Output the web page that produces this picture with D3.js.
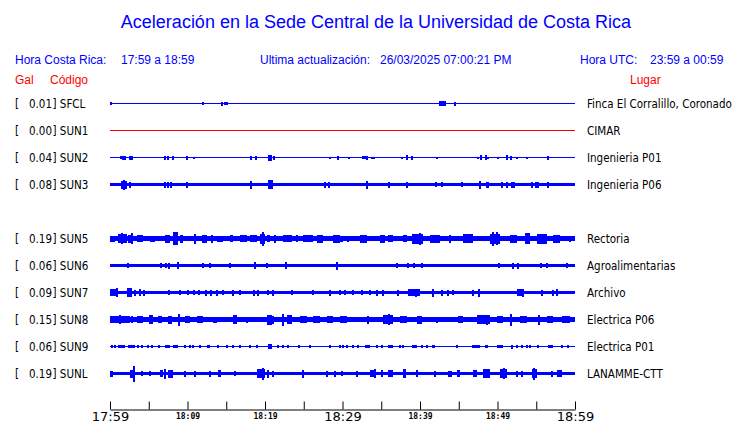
<!DOCTYPE html>
<html>
<head>
<meta charset="utf-8">
<script src="https://cdn.jsdelivr.net/npm/d3@7"></script>
<style>
  html, body { margin: 0; padding: 0; background: #fff; }
  svg { display: block; }
  text { white-space: pre; }
</style>
</head>
<body>
<svg id="chart" width="740" height="423"></svg>
<script>
// ---------------- DATA ----------------
const title = "Aceleración en la Sede Central de la Universidad de Costa Rica";
const headerLocal = ["Hora Costa Rica:", "17:59 a 18:59"];
const headerUpdate = ["Ultima actualización:", "26/03/2025 07:00:21 PM"];
const headerUTC = ["Hora UTC:", "23:59 a 00:59"];
const colHeaders = ["Gal", "Código", "Lugar"];

// row slot (SUN4 slot 4 is empty)
const slots   = [0, 1, 2, 3, 5, 6, 7, 8, 9, 10];
const codes   = ["SFCL", "SUN1", "SUN2", "SUN3", "SUN5", "SUN6", "SUN7", "SUN8", "SUN9", "SUNL"];
const peakGal = ["0.01", "0.00", "0.04", "0.08", "0.19", "0.06", "0.09", "0.15", "0.06", "0.19"];
const places  = ["Finca El Corralillo, Coronado", "CIMAR", "Ingenieria P01", "Ingenieria P06",
                 "Rectoria", "Agroalimentarias", "Archivo", "Electrica P06", "Electrica P01", "LANAMME-CTT"];
const traceColors = ["blue", "red", "blue", "blue", "blue", "blue", "blue", "blue", "blue", "blue"];
// background noise half-amplitude of each trace (relative units)
const baseAmp = [0.5, 0.7, 0.5, 1.5, 2.5, 1.4, 1.65, 2.3, 0.5, 1.85];

// events: [minute, amp] or [startMinute, endMinute, amp]; minutes after 17:59
const evSFCL = [[0.1,1.5],[12.0,1.5],[14.5,2],[14.8,1.5],[15.1,1.5],[42.5,43.4,2.5],[44.5,2]];
const evSUN1 = [];
const evSUN2 = [[1.4,1.5],[1.55,2.06,2],[2.45,2.97,2],[7.1,2],[7.5,2],[8.1,2],[9.9,2],[10.8,1],
  [18.2,2],[18.8,2],[20.4,20.9,3],[21.2,2],[28.4,1],[29.4,2],[30.8,1],[32.6,1.5],[32.9,1.5],[33.2,2],
  [33.8,1],[34.1,1],[37.7,1],[38.3,2.5],[39.0,2],[42.2,1],[47.5,1],[47.9,2.5],[48.5,2.5],[48.8,1],
  [50.1,1],[51.2,2.5],[51.7,2],[52.5,1],[53.8,1],[56.5,2]];
const evSUN3 = [[1.4,2.2,4],[1.8,5],[2.6,3],[7.1,3],[7.5,3],[7.9,3],[9.9,3],[18.2,4],[20.4,21.0,4.5],
  [27.7,3],[28.3,3],[33.2,4],[36.0,3],[38.3,3],[42.1,2.5],[42.8,2.5],[45.4,2.5],[47.7,4],[48.6,3],
  [48.8,3],[50.6,3],[51.2,3],[51.9,3],[52.1,3],[54.5,3],[55.0,3],[55.2,3],[56.5,3]];
const evSUN5 = [[0,0.65,3],[1.0,2.2,4.5],[1.55,5.5],[2.3,3.0,4],[2.8,5.5],[3.5,4.3,3.5],[5.2,5.8,3],
  [7.1,7.7,4],[8.1,8.8,6.5],[9.0,9.4,4],[11.0,5],[11.9,12.5,4],[13.2,4],[13.8,14.6,3],[15.5,15.9,3.5],
  [16.8,17.7,3.5],[18.1,19.0,3.5],[19.4,20.0,5],[19.7,7],[20.3,20.6,3.5],[21.3,4],[22.3,23.5,3.5],
  [24.1,3.5],[24.9,26.2,3.5],[26.7,27.5,4],[28.8,29.7,4],[29.7,30.1,3],[30.7,3],[32.3,33.2,4],
  [34.8,35.5,4],[35.9,36.5,3.5],[37.8,38.3,3.5],[39.0,40.4,5],[40.0,6],[41.3,42.6,4],[43.9,4],
  [45.5,46.8,4.5],[49.0,50.3,5],[49.4,7],[49.9,6.5],[51.6,52.5,4],[53.5,54.2,5.5],[55.1,56.4,5],
  [57.2,58.1,4],[59.4,3]];
const evSUN6 = [[2.3,2.5],[6.6,2.5],[7.2,2.5],[7.6,3],[8.6,8.9,3.5],[12.0,2.5],[12.9,2.5],[15.5,2.5],
  [18.7,3.5],[20.3,2.5],[22.7,3.5],[29.3,4],[37.0,2.5],[38.5,2.5],[39.2,2.5],[40.3,2.5],[50.2,2.5],
  [52.0,3],[52.6,3],[55.6,2.5],[56.4,2.5],[59.0,2.5]];
const evSUN7 = [[0,1.0,3.5],[0.9,4.5],[2.2,2.8,4.5],[3.2,3],[3.9,3.5],[4.3,4.5,3],[7.6,2.5],[9.0,2.5],
  [10.1,2.5],[10.8,2.5],[11.5,2.5],[12.4,3],[13.0,3],[13.8,3],[14.6,2.5],[15.9,3],[16.8,2.5],[18.6,3],
  [19.1,3],[20.4,2.5],[21.0,3],[23.5,2.5],[26.2,2.5],[28.4,3],[29.7,2.5],[30.3,2.5],[31.4,2.5],
  [32.5,2.5],[33.5,2.5],[34.5,3],[35.2,3],[37.2,3],[38.5,40.0,3.5],[39.5,4],[41.7,4],[42.8,3],
  [43.6,3],[44.3,2.5],[46.8,3],[47.6,4],[52.5,53.3,3.5],[53.3,4],[55.7,3],[57.2,3],[57.7,3.5]];
const evSUN8 = [[0,2.6,3.5],[1.3,4.5],[2.8,3.5],[3.5,4.3,3.5],[5.0,5.5,4.5],[6.2,6.7,3.5],[7.5,8.0,4],
  [8.9,6],[9.7,10.3,3.5],[11.2,12.0,3.5],[13.3,13.8,3],[15.9,16.4,4.5],[17.7,3],[20.3,20.9,5],[21.0,4],
  [22.3,6],[22.8,23.5,4.5],[24.5,25.4,3.5],[26.2,27.1,3.5],[28.0,28.8,3.5],[29.7,30.6,3.5],[33.3,4],
  [35.2,36.5,4.5],[36.0,5.5],[37.4,38.3,3.5],[39.6,40.3,4],[42.2,3],[44.9,45.5,3.5],[47.4,49.0,4.5],
  [48.6,5],[49.9,50.7,3.5],[51.7,6],[52.9,53.8,3.5],[55.4,5],[56.4,57.2,3.5],[58.3,59.4,3.5]];
const evSUN9 = [[0.3,1.5],[0.6,1.5],[1.0,1.9,1.5],[2.3,3.2,1.5],[3.6,1.5],[4.1,1.5],[4.9,1.5],[5.4,1.5],
  [6.3,1.5],[7.1,7.7,1.5],[8.1,8.8,1.5],[9.7,1.5],[10.3,1.5],[10.7,1.5],[11.6,1.5],[12.5,12.9,1.5],
  [13.9,1.5],[15.1,1.5],[15.9,1.5],[16.8,1.5],[18.1,1.5],[19.0,1.5],[20.4,20.9,2.5],[21.7,1.5],
  [22.3,1.5],[23.0,1.5],[24.4,1.5],[25.8,1.5],[28.4,1.5],[29.7,1.5],[30.1,1.5],[30.6,1.5],[31.4,1.5],
  [32.0,1.5],[32.9,33.5,1.5],[34.5,1.5],[35.1,1.5],[35.9,36.5,1.5],[37.4,1.5],[37.8,1.5],
  [39.0,39.6,1.5],[40.3,1.5],[40.9,1.5],[41.5,41.9,1.5],[44.8,1.5],[46.7,47.7,1.5],[48.4,48.8,1.5],
  [49.9,50.7,1.5],[51.9,2],[52.5,1.5],[53.2,1.5],[53.8,1.5],[54.2,1.5],[55.2,1.5],[56.5,57.2,1.5],
  [58.3,1.5],[59.1,1.5]];
const evSUNL = [[0,0.4,3],[2.6,3.2,4],[3.1,8],[4.1,2.5],[5.2,2.5],[6.5,6.8,3.5],[7.1,5],[7.5,8.1,4],
  [9.7,3],[11.0,3],[12.9,3],[13.9,14.3,3.5],[16.1,2.5],[19.0,20.0,4.5],[19.7,6],[20.4,4],[21.0,3],
  [24.9,4],[28.0,3],[29.0,3],[29.9,2.5],[31.9,3],[33.5,34.2,3.5],[34.2,4.5],[35.1,3.5],[35.9,36.5,3.5],
  [37.8,38.2,4.5],[39.6,3.5],[41.9,3],[43.6,44.1,3],[44.8,45.2,3.5],[46.8,47.4,3.5],[48.1,49.0,4.5],
  [50.3,51.2,4.5],[50.8,5.5],[52.5,3],[53.2,3],[54.5,55.1,4.5],[54.7,6],[57.0,3],[57.7,58.3,3.5]];
const traceEvents = [evSFCL, evSUN1, evSUN2, evSUN3, evSUN5, evSUN6, evSUN7, evSUN8, evSUN9, evSUNL];

// time axis
const tickMinutes = [0, 5, 10, 15, 20, 25, 30, 35, 40, 45, 50, 55, 60];
const tickLabels  = ["17:59", "", "18:09", "", "18:19", "", "18:29", "", "18:39", "", "18:49", "", "18:59"];
const majorTicks  = [0, 30, 60];

// ---------------- DRAW ----------------
const svg = d3.select("#chart");
const BLUE = "#0000ff", RED = "#ff0000";

const x = d3.scaleLinear().domain([0, 60]).range([110, 575]);
const y = d3.scaleLinear().domain([0, 10]).range([103.5, 373.5]);
const amp = d3.scaleLinear().domain([0, 10]).range([0, 10]);

// title & headers
svg.append("text").attr("x", 376).attr("y", 28).attr("text-anchor", "middle")
  .attr("font-family", "Liberation Sans, Arial, sans-serif").attr("font-size", 18)
  .attr("fill", BLUE).text(title);

const hdr = (txt, xx, yy, col) => svg.append("text").attr("x", xx).attr("y", yy)
  .attr("font-family", "Liberation Sans, Arial, sans-serif").attr("font-size", 12)
  .attr("fill", col).text(txt);
hdr(headerLocal[0], 15, 64, BLUE);  hdr(headerLocal[1], 121, 64, BLUE);
hdr(headerUpdate[0], 260, 64, BLUE); hdr(headerUpdate[1], 380, 64, BLUE);
hdr(headerUTC[0], 580, 64, BLUE);    hdr(headerUTC[1], 650, 64, BLUE);
hdr(colHeaders[0], 15, 84, RED); hdr(colHeaders[1], 50, 84, RED); hdr(colHeaders[2], 630, 84, RED);

// station rows
const rows = svg.selectAll("g.row").data(d3.range(codes.length)).join("g")
  .attr("class", "row")
  .attr("transform", i => `translate(0,${y(slots[i])})`);

const applyLab = sel => sel
  .attr("font-family", "DejaVu Sans Condensed, DejaVu Sans, sans-serif")
  .attr("font-stretch", "condensed")
  .attr("font-size", 11.5).attr("fill", "#000");
applyLab(rows.append("text").attr("x", 15).attr("y", 4).text("["));
applyLab(rows.append("text").attr("x", 52).attr("y", 4).attr("text-anchor", "end").text(i => peakGal[i]));
applyLab(rows.append("text").attr("x", 52.5).attr("y", 4).text(i => "] " + codes[i]));
applyLab(rows.append("text").attr("x", 587).attr("y", 4).text(i => places[i]));

// base noise band
rows.append("rect")
  .attr("x", x(0)).attr("width", x(60) - x(0))
  .attr("y", i => -amp(baseAmp[i])).attr("height", i => 2 * amp(baseAmp[i]))
  .attr("fill", i => traceColors[i] === "red" ? RED : BLUE)
  .attr("shape-rendering", "crispEdges");

// bursts / spikes
rows.each(function(i) {
  d3.select(this).selectAll("rect.ev").data(traceEvents[i]).join("rect")
    .attr("class", "ev")
    .attr("x", d => d.length === 3 ? x(d[0]) : x(d[0]) - 1)
    .attr("width", d => d.length === 3 ? Math.max(2, x(d[1]) - x(d[0])) : 2)
    .attr("y", d => -amp(d[d.length - 1]))
    .attr("height", d => 2 * amp(d[d.length - 1]))
    .attr("fill", traceColors[i] === "red" ? RED : BLUE)
    .attr("shape-rendering", "crispEdges");
});

// time axis
const axis = d3.axisBottom(x).tickValues(tickMinutes)
  .tickSizeInner(-8).tickSizeOuter(0).tickPadding(2)
  .tickFormat((d, i) => tickLabels[i]);
const gAx = svg.append("g").attr("transform", "translate(0,409.5)").call(axis);
gAx.select(".domain").attr("stroke", "#000");
gAx.selectAll(".tick line").attr("stroke", "#000");
gAx.selectAll(".tick text").each(function(d) {
  const t = d3.select(this).attr("fill", "#000");
  if (majorTicks.includes(d)) {
    t.attr("font-family", "DejaVu Sans, sans-serif").attr("font-size", 13).attr("dy", null).attr("y", 11);
  } else {
    t.attr("font-family", "DejaVu Sans Mono, monospace").attr("font-size", 8).attr("font-weight", "bold")
     .attr("dy", null).attr("y", 9);
  }
});
</script>
</body>
</html>
